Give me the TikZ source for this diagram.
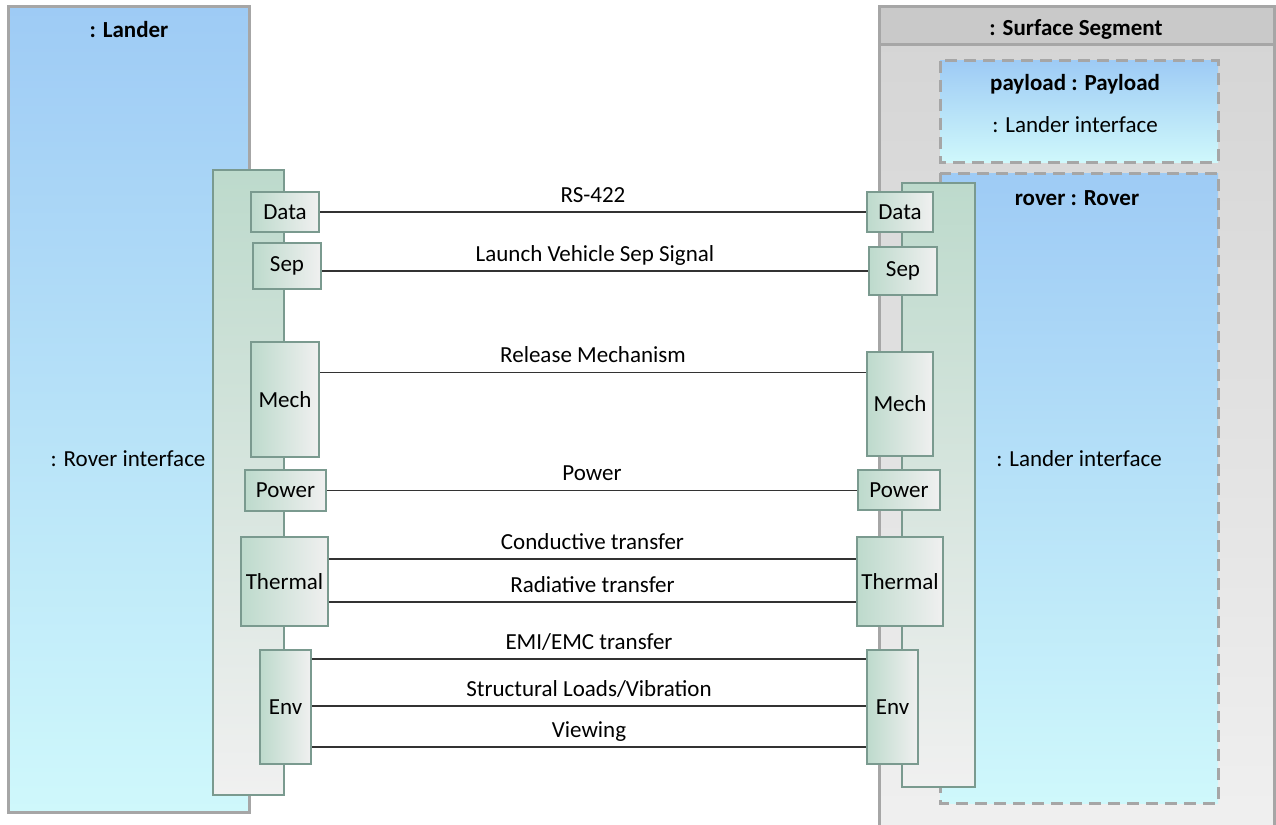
\documentclass[tikz,border=0pt]{standalone}
\usepackage{fontspec}
\setmainfont{Carlito}
\usetikzlibrary{calc}

\definecolor{blockblue}{HTML}{9ECBF5}
\definecolor{blockcyan}{HTML}{CFF8FB}
\definecolor{portgreen}{HTML}{BDDACC}
\definecolor{portgray}{HTML}{F0F0F0}
\definecolor{portline}{HTML}{7A9A8F}
\definecolor{segline}{HTML}{A6A6A6}
\definecolor{seghead}{HTML}{C9C9C9}
\definecolor{segbody}{HTML}{D4D4D4}
\definecolor{wirecol}{HTML}{333333}

\tikzset{
  txt/.style={font=\fontsize{23}{27}\selectfont, inner sep=0pt},
  title/.style={font=\bfseries\fontsize{23}{27}\selectfont, inner sep=0pt},
  block/.style={draw=segline, line width=3pt, top color=blockblue, bottom color=blockcyan},
  part/.style={draw=segline, line width=3pt, dash pattern=on 12pt off 7pt, top color=blockblue, bottom color=blockcyan},
  strip/.style={draw=portline, line width=2pt, top color=portgreen, bottom color=portgray},
  port/.style={draw=portline, line width=2pt, left color=portgreen, right color=portgray, txt},
  wire/.style={draw=wirecol, line width=1.3pt},
  lbl/.style={midway, anchor=base, yshift=10pt, txt}
}

\begin{document}
\begin{tikzpicture}[x=1pt, y=-1pt]
		%%%%% START %%%%%
		\useasboundingbox (0, 0) rectangle (1276, 824);
		
		% lander side
		\draw[block] (8, 7) rectangle (249, 812);
		\node[title] (landertitle) at (129, 30) {: Lander};
		\node[txt] (roverif) at (128, 459) {: Rover interface};
		\draw[strip] (213, 170) rectangle (284, 795);
		
		% surface segment
		\draw[draw=segline, line width=3pt, top color=segbody, bottom color=portgray] (879, 7) rectangle (1274, 840);
		\draw[draw=segline, line width=3pt, fill=seghead] (879, 7) rectangle (1274, 45);
		\node[title] (segtitle) at (1076, 29) {: Surface Segment};
		
		\draw[part] (940, 61) rectangle (1218, 162);
		\node[title] (payloadtitle) at (1075, 84) {payload : Payload};
		\node[txt] (payloadif) at (1075, 125) {: Lander interface};
		
		\draw[part] (940, 173) rectangle (1218, 803);
		\node[title] (rovertitle) at (1077, 198) {rover : Rover};
		\node[txt] (landerif) at (1079, 459) {: Lander interface};
		\draw[strip] (902, 183) rectangle (975, 787);
		
		% ports on the lander
		\node[port, minimum width=68pt, minimum height=40pt] (ldata) at (285, 212) {Data};
		\node[port, minimum width=68pt, minimum height=46pt] (lsep) at (287, 266) {Sep};
		\node[port, minimum width=68pt, minimum height=115pt] (lmech) at (285, 399.5) {Mech};
		\node[port, minimum width=81pt, minimum height=41pt] (lpower) at (285.5, 490.5) {Power};
		\node[port, minimum width=87pt, minimum height=89pt] (lthermal) at (284.5, 581.5) {Thermal};
		\node[port, minimum width=51pt, minimum height=114pt] (lenv) at (285.5, 707) {Env};
		
		% ports on the rover
		\node[port, minimum width=66pt, minimum height=40pt] (rdata) at (900, 212) {Data};
		\node[port, minimum width=68pt, minimum height=48pt] (rsep) at (903, 271) {Sep};
		\node[port, minimum width=66pt, minimum height=104pt] (rmech) at (900, 404) {Mech};
		\node[port, minimum width=82pt, minimum height=40pt] (rpower) at (899, 490) {Power};
		\node[port, minimum width=86pt, minimum height=89pt] (rthermal) at (900, 581.5) {Thermal};
		\node[port, minimum width=51pt, minimum height=114pt] (renv) at (892.5, 707) {Env};
		
		% connectors
		\draw[wire] (ldata.east) -- (rdata.west) node[lbl] {RS-422};
		\draw[wire] (lsep.east |- rsep.west) -- (rsep.west) node[lbl] {Launch Vehicle Sep Signal};
		\draw[wire] ([yshift=27pt]lmech.east) -- ([yshift=27pt]lmech.east -| rmech.west) node[lbl] {Release Mechanism};
		\draw[wire] (lpower.east) -- (lpower.east -| rpower.west) node[lbl] {Power};
		\draw[wire] ([yshift=22.5pt]lthermal.east) -- ([yshift=22.5pt]rthermal.west) node[lbl] {Conductive transfer};
		\draw[wire] ([yshift=-20.5pt]lthermal.east) -- ([yshift=-20.5pt]rthermal.west) node[lbl] {Radiative transfer};
		\draw[wire] ([yshift=48pt]lenv.east) -- ([yshift=48pt]renv.west) node[lbl] {EMI/EMC transfer};
		\draw[wire] ([yshift=1pt]lenv.east) -- ([yshift=1pt]renv.west) node[lbl] {Structural Loads/Vibration};
		\draw[wire] ([yshift=-40pt]lenv.east) -- ([yshift=-40pt]renv.west) node[lbl] {Viewing};
		
		%%%%% END %%%%%
	\end{tikzpicture}
\end{document}
